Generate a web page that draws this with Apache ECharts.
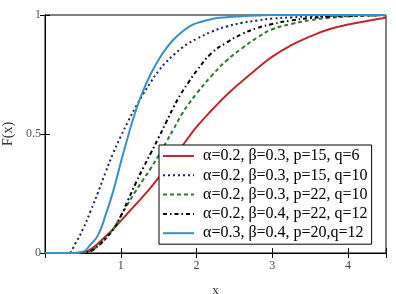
<!DOCTYPE html>
<html><head><meta charset="utf-8">
<script src="https://cdn.jsdelivr.net/npm/echarts@6/dist/echarts.min.js"></script>
<style>html,body{margin:0;padding:0;background:#fff}#c{width:396px;height:294px}</style>
</head><body><div id="c"></div>
<script>
const xs = [0,0.3,0.4,0.5,0.6,0.7,0.8,0.9,1.0,1.1,1.2,1.3,1.4,1.5,1.6,1.7,1.8,1.9,2.0,2.2,2.4,2.6,2.8,3.0,3.25,3.5,3.75,4.0,4.25,4.5];
const redY   = [0,0,0,0.002,0.015,0.04,0.07,0.1,0.135,0.17,0.205,0.24,0.277,0.317,0.36,0.403,0.445,0.488,0.53,0.6,0.665,0.722,0.775,0.825,0.873,0.91,0.94,0.96,0.975,0.988];
const dotY   = [0,0,0.04,0.1,0.175,0.255,0.34,0.42,0.49,0.555,0.615,0.67,0.72,0.765,0.803,0.833,0.86,0.882,0.9,0.93,0.952,0.967,0.977,0.985,0.99,0.994,0.996,0.998,0.999,1];
const greenY = [0,0,0,0,0.008,0.03,0.06,0.1,0.155,0.21,0.262,0.31,0.358,0.41,0.466,0.523,0.58,0.628,0.67,0.745,0.81,0.86,0.905,0.94,0.962,0.978,0.988,0.994,0.997,0.999];
const blackY = [0,0,0,0,0.008,0.03,0.062,0.1,0.155,0.225,0.295,0.36,0.422,0.485,0.55,0.615,0.672,0.72,0.765,0.84,0.885,0.92,0.945,0.962,0.977,0.987,0.993,0.996,0.998,0.999];
const blueY  = [0,0,0,0.005,0.035,0.075,0.16,0.26,0.38,0.495,0.6,0.685,0.755,0.812,0.86,0.898,0.927,0.95,0.966,0.983,0.991,0.995,0.998,1,1,1,1,1,1,1];
const names = ['α=0.2, β=0.3, p=15, q=6','α=0.2, β=0.3, p=15, q=10','α=0.2, β=0.3, p=22, q=10','α=0.2, β=0.4, p=22, q=12','α=0.3, β=0.4, p=20,q=12'];
const xTicks = [1,2,3,4];
const yTicks = [0,0.5,1];

const ser = (name, ys, color, type) => ({
  name, type:'line', data: xs.map((x,i)=>[x,ys[i]]), showSymbol:false, symbol:'none',
  smooth:0.5, lineStyle:{color, width:2, type}, itemStyle:{color}, z: 3
});
const serif = '"Liberation Serif","DejaVu Serif",serif';
const chart = echarts.init(document.getElementById('c'));
chart.setOption({
  animation:false,
  grid:{left:45,right:10,top:15,bottom:41,show:true,borderColor:'#000',borderWidth:1,containLabel:false,outerBoundsMode:'none'},
  legend:{
    orient:'vertical', left:159, top:145, width:226, height:101,
    backgroundColor:'#fff', borderColor:'#000', borderWidth:1, borderRadius:0,
    padding:[3,4,3,3], itemGap:3.3, itemWidth:31, itemHeight:12,
    itemStyle:{opacity:0},
    textStyle:{fontFamily:serif, fontSize:16, color:'#000', lineHeight:16, padding:[0,0,0,4]},
    data:names, selectedMode:false
  },
  xAxis:[{type:'value',min:0,max:4.5,interval:1,position:'bottom',
    name:'x',nameLocation:'middle',nameGap:31,nameTextStyle:{fontFamily:serif,fontSize:13,color:'#333'},
    axisLine:{show:true,lineStyle:{color:'#000'}},
    axisTick:{show:true,inside:true,length:5,lineStyle:{color:'#000'}},
    axisLabel:{fontFamily:serif,fontSize:12,color:'#444',margin:7,formatter:v=>xTicks.includes(v)?String(v):''},
    splitLine:{show:false}},
   {type:'value',min:0,max:4.5,interval:1,position:'top',
    axisLine:{show:true,lineStyle:{color:'#000'}},
    axisTick:{show:true,inside:true,length:5,lineStyle:{color:'#000'}},
    axisLabel:{show:false},splitLine:{show:false}}],
  yAxis:[{type:'value',min:0,max:1,interval:0.5,position:'left',
    name:'F(x)',nameLocation:'middle',nameGap:30,nameRotate:90,nameTextStyle:{fontFamily:serif,fontSize:14,color:'#333'},
    axisLine:{show:true,lineStyle:{color:'#000'}},
    axisTick:{show:true,inside:true,length:5,lineStyle:{color:'#000'}},
    axisLabel:{fontFamily:serif,fontSize:12,color:'#555',margin:4,formatter:v=>yTicks.includes(v)?String(v):''},
    splitLine:{show:false}},
   {type:'value',min:0,max:1,interval:0.5,position:'right',
    axisLine:{show:true,lineStyle:{color:'#000'}},
    axisTick:{show:true,inside:true,length:5,lineStyle:{color:'#000'}},
    axisLabel:{show:false},splitLine:{show:false}}],
  series:[
    ser(names[0], redY, '#c0282d', 'solid'),
    ser(names[1], dotY, '#1c1c78', [2,3]),
    ser(names[2], greenY, '#2e7a2e', [4,3]),
    ser(names[3], blackY, '#000000', [4,3,1.5,3]),
    ser(names[4], blueY, '#3a8fc6', 'solid')
  ]
});
</script></body></html>
